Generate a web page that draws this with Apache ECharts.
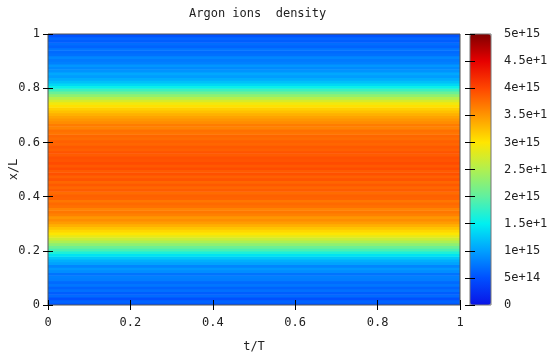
<!DOCTYPE html>
<html>
<head>
<meta charset="utf-8">
<script src="https://cdn.jsdelivr.net/npm/echarts@6/dist/echarts.min.js"></script>
<style>html,body{margin:0;padding:0;background:#fff}#c{width:547px;height:356px}</style>
</head>
<body>
<div id="c"></div>
<script>
// Title / axis names
const titleText = 'Argon ions  density';
const xName = 't/T';
const yName = 'x/L';
// Time span covered by each profile row (profile is steady in time)
const tSpan = [0, 1];
// Argon ion density profile, rows from x/L = 0 (bottom) to x/L = 1 (top), 100 rows
const density = [
  0.55e15, 0.62e15, 0.50e15, 0.66e15, 0.58e15, 0.70e15, 0.62e15, 0.74e15, 0.66e15, 0.78e15,
  0.80e15, 0.72e15, 0.88e15, 0.95e15, 0.84e15, 1.02e15, 1.10e15, 1.25e15, 1.42e15, 1.65e15,
  1.88e15, 2.08e15, 2.28e15, 2.48e15, 2.68e15, 2.85e15, 2.98e15, 3.10e15, 3.22e15, 3.34e15,
  3.46e15, 3.56e15, 3.50e15, 3.64e15, 3.70e15, 3.62e15, 3.74e15, 3.78e15, 3.70e15, 3.82e15,
  3.84e15, 3.76e15, 3.86e15, 3.80e15, 3.88e15, 3.80e15, 3.92e15, 3.84e15, 3.94e15, 3.87e15,
  3.96e15, 3.89e15, 3.97e15, 3.91e15, 3.94e15, 3.86e15, 3.91e15, 3.84e15, 3.88e15, 3.80e15,
  3.84e15, 3.76e15, 3.80e15, 3.70e15, 3.74e15, 3.62e15, 3.66e15, 3.56e15, 3.50e15, 3.42e15,
  3.34e15, 3.24e15, 3.14e15, 3.03e15, 2.92e15, 2.74e15, 2.52e15, 2.30e15, 2.06e15, 1.82e15,
  1.55e15, 1.35e15, 1.20e15, 1.08e15, 0.98e15, 1.05e15, 0.92e15, 0.86e15, 0.94e15, 0.80e15,
  0.76e15, 0.84e15, 0.70e15, 0.66e15, 0.74e15, 0.62e15, 0.68e15, 0.58e15, 0.64e15, 0.52e15
];
// Colour scale range and palette
const cbRange = [0, 5e15];
const palette = ['#0a14e6', '#0050ff', '#00a0ff', '#00f0f0', '#60f0a0', '#b0f050',
                 '#ffe600', '#ff9600', '#ff4600', '#e60000', '#800000'];

const N = density.length;
const cells = density.map((v, i) => [tSpan[0], tSpan[1], i / N, (i + 1) / N, v]);

const FONT = 'DejaVu Sans Mono';
const FS = 12;
const TXT = '#222';

const chart = echarts.init(document.getElementById('c'), null, {renderer: 'canvas'});
const tickStyle = {show: true, inside: true, length: 5, lineStyle: {color: '#000', width: 1}};
chart.setOption({
  animation: false,
  backgroundColor: '#fff',
  title: {
    text: titleText, left: 184, top: 3,
    textStyle: {fontFamily: FONT, fontSize: FS, fontWeight: 'normal', color: TXT}
  },
  grid: [
    {left: 48, top: 34, width: 412, height: 271, show: true, borderColor: '#555', borderWidth: 1,
     backgroundColor: 'transparent', z: 10, containLabel: false, outerBoundsMode: 'none'},
    {left: 470, top: 34, width: 21, height: 271, show: true, borderColor: '#777', borderWidth: 1,
     backgroundColor: 'transparent', z: 10, containLabel: false, outerBoundsMode: 'none'}
  ],
  xAxis: [
    {type: 'value', gridIndex: 0, min: 0, max: 1, interval: 0.2, position: 'bottom', z: 10,
     name: xName, nameLocation: 'middle', nameGap: 36, nameMoveOverlap: false,
     nameTextStyle: {fontFamily: FONT, fontSize: FS, color: TXT},
     axisLine: {show: false}, axisTick: tickStyle, splitLine: {show: false},
     axisLabel: {fontFamily: FONT, fontSize: FS, color: TXT, margin: 12}},
    {type: 'value', gridIndex: 0, min: 0, max: 1, interval: 0.2, position: 'top', z: 10,
     axisLine: {show: false}, axisTick: tickStyle, splitLine: {show: false}, axisLabel: {show: false}},
    {type: 'value', gridIndex: 1, min: 0, max: 1, show: false}
  ],
  yAxis: [
    {type: 'value', gridIndex: 0, min: 0, max: 1, interval: 0.2, position: 'left', z: 10,
     name: yName, nameLocation: 'middle', nameGap: 28, nameMoveOverlap: false,
     nameTextStyle: {fontFamily: FONT, fontSize: FS, color: TXT},
     axisLine: {show: false}, axisTick: tickStyle, splitLine: {show: false},
     axisLabel: {fontFamily: FONT, fontSize: FS, color: TXT, margin: 8}},
    {type: 'value', gridIndex: 0, min: 0, max: 1, interval: 0.2, position: 'right', z: 10,
     axisLine: {show: false}, axisTick: tickStyle, splitLine: {show: false}, axisLabel: {show: false}},
    {type: 'value', gridIndex: 1, min: cbRange[0], max: cbRange[1], interval: 5e14, position: 'right', z: 10,
     axisLine: {show: false}, axisTick: tickStyle, splitLine: {show: false},
     axisLabel: {fontFamily: FONT, fontSize: FS, color: TXT, margin: 13,
       formatter: v => v === 0 ? '0' : Number(v.toPrecision(6)).toExponential()}},
    {type: 'value', gridIndex: 1, min: cbRange[0], max: cbRange[1], interval: 5e14, position: 'left', z: 10,
     axisLine: {show: false}, axisTick: tickStyle, splitLine: {show: false}, axisLabel: {show: false}}
  ],
  visualMap: {
    type: 'continuous', min: cbRange[0], max: cbRange[1], dimension: 4, seriesIndex: 0,
    calculable: false, hoverLink: false, orient: 'vertical',
    left: 470, top: 34, padding: 0, itemWidth: 21, itemHeight: 271, text: null,
    showLabel: false, textStyle: {color: 'transparent'},
    inRange: {color: palette}
  },
  series: [{
    type: 'custom', xAxisIndex: 0, yAxisIndex: 0, clip: true,
    encode: {x: [0, 1], y: [2, 3]},
    data: cells,
    renderItem: function (params, api) {
      const p0 = api.coord([api.value(0), api.value(3)]);
      const p1 = api.coord([api.value(1), api.value(2)]);
      return {type: 'rect',
        shape: {x: p0[0], y: p0[1], width: p1[0] - p0[0], height: p1[1] - p0[1] + 0.6},
        style: {fill: api.visual('color')}};
    }
  }]
});
</script>
</body>
</html>
